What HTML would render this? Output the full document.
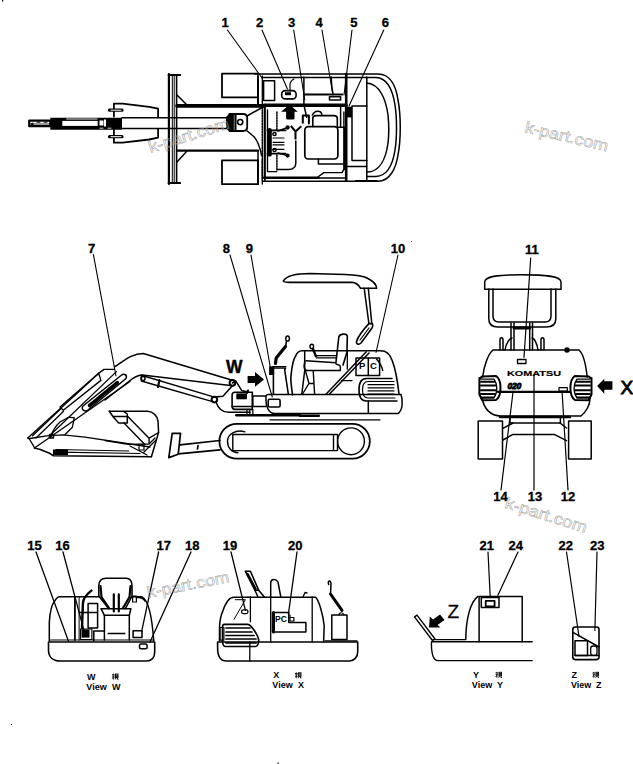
<!DOCTYPE html>
<html><head><meta charset="utf-8"><style>
html,body{margin:0;padding:0;background:#fff;width:633px;height:764px;overflow:hidden}
svg{display:block}
.n{font-family:"Liberation Sans",sans-serif;font-weight:bold;font-size:13px;fill:#000;stroke:#000;stroke-width:0.3px}
.v{font-family:"Liberation Sans",sans-serif;font-weight:bold;font-size:9px;fill:#000}
.wm{font-family:"Liberation Sans",sans-serif;font-size:14px;fill:#999}
</style></head><body>
<svg width="633" height="764" viewBox="0 0 633 764">
<g fill="none" stroke="#000" stroke-width="1.5" stroke-linejoin="round" stroke-linecap="round">

<!-- ============ TOP VIEW ============ -->
<!-- arm -->
<path d="M50.3,117.7 L122,117.7 L122,129.7 L50.3,129.7 Z" fill="#000" stroke="none"/>
<rect x="62.3" y="120.9" width="35.4" height="5" fill="#fff" stroke="none"/>
<path d="M66.7,119 L97,119" stroke="#fff" stroke-width="0.9"/>
<rect x="99.5" y="120.5" width="4" height="5" fill="#fff" stroke="none"/>
<rect x="104" y="119.5" width="2" height="7" fill="#fff" stroke="none"/>
<path d="M100,128.2 L103,128.2 M108,128.2 L111,128.2" stroke="#fff" stroke-width="0.8"/>
<path d="M29.2,120.6 L50.3,120.6 L50.3,126.2 L29.2,126.2 Z" stroke-width="2.2"/>
<path d="M37,122.2 L40,122.2 M44,122.2 L47,122.2" stroke-width="1"/>
<path d="M31,123.8 L33,123 L33,125 Z" fill="#000" stroke-width="1"/>
<path d="M33,124 L50,124" stroke-width="0.8"/>
<!-- boom -->
<path d="M122,117.8 L231,117.8 M122,128.5 L231,128.5" stroke-width="1.5"/>
<!-- boom-end brackets -->
<path d="M113.9,116.5 L113.9,103.7 L122.7,103.7 L149.2,106.9 L158.1,108.7 L158.1,116.5" stroke-width="1.8"/>
<path d="M113.9,129 L113.9,142.7 L122.7,142.7 L149.2,139.5 L158.1,137.7 L158.1,129" stroke-width="1.8"/>
<path d="M109.5,110.2 L122,110.2 M109.5,136.7 L122,136.7" stroke-width="3.2"/>
<path d="M111,110.2 L121,110.2 M111,136.7 L121,136.7" stroke="#fff" stroke-width="1"/>
<!-- blade -->
<path d="M168.9,74 L168.9,184" stroke-width="2.2"/>
<path d="M167.8,75 L180.9,75 M167.8,183 L180.9,183" stroke-width="2.2" stroke-linecap="butt"/>
<path d="M176.6,76 L176.6,182" stroke-width="1.6"/>
<path d="M172.3,76 L172.3,182 M174.2,76 L174.2,182" stroke-width="1"/>
<!-- braces / frame -->
<path d="M177,95 L187,105 M177,162 L187,151"/>
<path d="M177,105.9 L264,105.9" stroke-width="3.6"/>
<path d="M177,150.7 L258,150.7" stroke-width="2.2"/>
<!-- tracks -->
<path d="M222,73.6 L258,73.6 M222,73.6 L222,97.4 L258,97.4" stroke-width="1.8"/>
<path d="M222,160.4 L258,160.4 M222,160.4 L222,184.2 L258,184.2" stroke-width="1.8"/>
<path d="M258,76 L258,105 M258,160 L258,184" stroke-width="2"/><path d="M262.3,76 L262.3,105 M262.3,160 L262.3,184" stroke-width="1.3"/>
<!-- swing bracket -->
<path d="M229.5,114 L243,114 C246,114 247.2,116 247.2,118 L247.2,127 C247.2,129 246,131 243,131 L229.5,131 Z" stroke-width="1.8"/>
<path d="M233.9,114 L233.9,131 M235.8,114 L235.8,131"/>
<path d="M226,117 L229.5,113.5 L233,113.5 L233,131.5 L229.5,131.5 L226,128.5 Z" fill="#000" stroke="none"/>
<circle cx="240.2" cy="122.1" r="2.6" stroke-width="1.6"/>
<path d="M247,116 L263,107 M246,130 L254,136.7 C258,141 260,148 261.7,155.6"/>
<path d="M262.3,107 L262.3,180" stroke-dasharray="1.5 1.2"/>
<path d="M258,151 L258,161"/>
<!-- upper structure -->
<path d="M255,74 L378,74 C390,74 396,86 398,100 C401,115 401,140 398,155 C396,168 390,181.3 378,181.3 L263,181.3" stroke-width="1.5"/>
<path d="M262,77.5 L376,77.5 C388,78 393,92 395,105 C397,118 397,138 395,150 C393,163 388,176 376,176.5 L367,176.5"/>
<path d="M367,83 C380,84 386,100 388,115 C389,125 389,135 388,143 C386,158 380,172 367,172"/>
<path d="M366.8,77 L366.8,180"/>
<path d="M352,106 L366.8,106 M352,106 L352,160.4 L366.8,160.4 M346,166.5 L366.5,166.5"/>
<rect x="346" y="106.7" width="6" height="10.7" fill="#000" stroke="none"/>
<path d="M356,181 L377,181" stroke-width="2.2"/>
<path d="M264.9,106 L264.9,180" stroke-width="1.8"/>
<path d="M263.6,80.8 L274.6,80.8 L274.6,100.4 L263.6,100.4 Z"/>
<rect x="281.7" y="90.6" width="14.4" height="8.3" rx="3.5" stroke-width="1.6"/>
<rect x="285" y="92.2" width="6" height="3" fill="#000" stroke="none"/>
<path d="M290,91 L290,85 C290,82 292,80 294,79" stroke-width="1.2"/>
<path d="M304.5,94.5 L342.3,94.5" stroke-width="2"/>
<rect x="329.5" y="96.7" width="11.1" height="3.3" stroke-width="1.6"/>
<path d="M331.2,77 C331.5,85 332,90 332.9,92.8"/>
<path d="M346.2,74 L346.2,180" stroke-width="2.6"/>
<path d="M346,105.3 L264,105.3" stroke-width="3.4"/>
<!-- cab -->
<path d="M264.5,107 L264.5,178 L345.6,178" stroke-width="1.6"/>
<path d="M267.5,110 L267.5,171.6 L276.8,171.6 M317.8,177 L323.9,172.6 L342.1,172.6 L343.9,169.1 L343.9,112" stroke-width="1.4"/>
<path d="M264,177.8 L318.7,177.8" stroke-width="2.4"/>
<!-- seat -->
<rect x="304.8" y="126.7" width="33.1" height="32.3" rx="3.5" stroke-width="1.7"/>
<path d="M312.8,126.5 L312.8,118.5 Q312.8,115.6 316,115.6 L334,115.6 Q337.3,115.6 337.3,118.5 L337.3,126.5" stroke-width="1.6"/>
<path d="M318.4,159 L318.4,164 L344,164" stroke-width="1.5"/>
<path d="M337.9,127.3 L344.5,127.3 M340.6,105 L340.6,126.2 M344.5,127.3 L344.5,169.6"/>
<path d="M302.8,122.8 L302.8,115.6 L308.9,115.6 L308.9,123.4" stroke-width="2"/>
<path d="M312.3,115 C314,112 316,111.2 317.8,111.2 C320,111.2 321.7,112.5 321.7,114.5" stroke-width="1.5"/>
<path d="M303.9,77 L303.9,105 M303.9,105 L306.7,117.3"/>
<!-- arrow -->
<path d="M289.5,104.5 L297.8,111.7 L294.5,111.7 L294.5,118.5 Q294.5,119.5 293,119.5 L287.6,119.5 Q286.1,119.5 286.1,118.5 L286.1,111.7 L281.1,111.7 Z" fill="#000" stroke="none"/>
<!-- Y -->
<path d="M290.8,125.8 L295.5,131.5 L301.3,126.3 M295.5,131.5 L295.5,139.4" stroke-width="2" stroke-linecap="butt"/>
<!-- levers -->
<path d="M269.6,130.3 L269.6,154.4" stroke-width="4.4"/>
<path d="M267.4,130.3 L285.7,130.3 M267.4,153.7 L285.7,153.7" stroke-width="1.8"/>
<path d="M273,138 L284,138 M273,142.3 L284,142.3 M273,144.9 L284,144.9 M273,149.3 L284,149.3" stroke-width="1.2"/>
<circle cx="274.5" cy="134" r="1.6"/><circle cx="274.5" cy="150" r="1.6"/>
<path d="M278,131 L287.6,127.5 M278,153 L287.6,155.6" stroke-width="1.5"/>
<circle cx="287.6" cy="127.5" r="1.4" fill="#000"/>
<circle cx="287.6" cy="155.6" r="1.4" fill="#000"/>
<path d="M276.9,112 L276.9,130 M276.9,155 L276.9,170" stroke-dasharray="1.5 1.2"/>
<path d="M295.8,141 L295.8,163 Q295.8,169.5 288.3,169.5 L277.5,169.5"/>
<!-- leaders top -->
<path d="M227.4,30 L262,78 M262,30 L287.4,89 M293.7,30 L304.8,100 M322,30 L333,95 M352,30 L344,95 M383.8,30 L349,106" stroke-width="1.1"/>

<!-- ============ SIDE VIEW ============ -->
<!-- arm -->
<path d="M27.8,438 L75.2,395 M75.2,395 L98.7,373.2 M98.7,373.2 L104.2,369.4 L114.2,369.4" stroke-width="1.4"/>
<path d="M60,407 L98.7,373.2 L100.9,380.4 L63.3,410.3 Z" stroke-width="1.4"/>
<path d="M32.6,435.8 L60.5,409 M36,438 L63.3,411.5" stroke-width="1.3"/>
<path d="M50.6,434.8 L116.4,371.6" stroke-width="1.3"/>
<path d="M34.5,448 L130,381.5" stroke-width="1.4"/>
<path d="M83,406 L121,375.5 C124.5,373 127.5,375 126,378.5 L88,410 C84.5,412.5 80.5,409 83,406 Z" stroke-width="1.5"/>
<path d="M89.5,405.5 L117.5,382.5" stroke-width="3.6" stroke-dasharray="5 1.2"/>
<path d="M27.8,438 L29.7,439.5 L34.5,447.6 M29.7,438.5 L46.8,435.8 L62.9,434.8 L85,437.2 L150,447" stroke-width="1.3"/>
<path d="M50.6,436.7 C53,430 56.3,425.3 60,422 L68.6,417.3 L74.3,417.7 L72.4,427.2 L64.8,434.8" stroke-width="1.3"/>
<rect x="49.5" y="434.5" width="4" height="3.5" stroke-width="1.3"/>
<path d="M34.5,448 L40.2,449.5 L49.6,453.3 L53.4,455.7 L151.4,456.7" stroke-width="1.6"/>
<rect x="53" y="449.5" width="15" height="5.5" fill="#000" stroke="none"/>
<path d="M56,449.5 L128.7,451 M57,452.2 L140,453.5" stroke-width="1.2"/>
<!-- boom -->
<path d="M115,366.5 C125,360 132,353.5 143.3,353.5 L231.4,380"/>
<path d="M105,400 L132,379 C135,377 139,375 142.3,375 L232.4,385.8"/>
<path d="M141.4,375.3 L214.4,397.1 M141.4,381 L213.4,401.9 M141.4,375.3 L141.4,381"/>
<path d="M159.4,380 L158,387" stroke-width="2.2"/>
<circle cx="143" cy="378.5" r="2"/>
<circle cx="232.4" cy="382.9" r="2.8" stroke-width="2"/>
<circle cx="214.4" cy="399.6" r="2.8" stroke-width="2"/>
<path d="M232.4,385.8 L222.9,396.2 L214.4,397.1 M232.4,383 L235.7,380.9 L241.6,390.4 L247.9,392 M216,402 C218,408 222,412.3 228.6,412.3 L250,412.3"/>
<!-- bucket -->
<path d="M109.3,411.2 L147.7,411.2 C153,411.5 157.6,416 158,421 L158.6,432.5 L151.4,456.7" stroke-width="1.5"/>
<path d="M109.3,411.2 L113.5,417.3 L118.7,423 L127.3,423 L127.3,414 L124,411.6 M113.5,416.4 L127.3,416.4" stroke-width="1.5"/>
<path d="M127.3,416 L149.1,438.2 L158.6,432.5 M124,423 L144.3,443.9 M149.1,438.2 L149.1,443" stroke-width="1.4"/>
<path d="M105,440.5 L128.2,444.3 L149,444 L155,438 M130,446 L147,455 M144,452 L156,440" stroke-width="1.3"/>
<rect x="139" y="445" width="5" height="5" stroke-width="1.2"/>
<!-- dozer blade -->
<path d="M172.2,433.3 L180.5,433.3 L178.2,454.3 L168.8,457.6 Z" stroke-width="1.7"/>
<path d="M180,444.9 L220,440.5 M178.2,453.8 L220,449.9 M197.5,449 L198,445.5" stroke-width="1.7"/>
<!-- track -->
<path d="M237,423.8 L352.5,423.8 C362,423.8 369.8,431.5 369.8,441.3 C369.8,451 362,458.7 352.5,458.7 L237,458.7 C227,458.7 219.4,451 219.4,441.3 C219.4,431.5 227,423.8 237,423.8 Z" stroke-width="1.8"/>
<path d="M244.9,431.9 C236,429 227.5,434 227.5,441.3 C227.5,448 232,452.8 238,452.8" stroke-width="1.4"/>
<path d="M232.8,434.5 L337.5,434.5 M232.8,450.6 L337.5,450.6 M232.8,434.5 L232.8,450.6 M333.5,434.5 L333.5,450.6 M337.5,434.5 L337.5,450.6" stroke-width="1.4"/>
<circle cx="351" cy="441.3" r="13.4" stroke-width="1.4"/>
<!-- swing bracket / lower body -->
<path d="M235,392.2 L252.3,392.2 L252.3,409.4 L235,409.4 Q232.1,409.4 232.1,406.5 L232.1,395 Q232.1,392.2 235,392.2 Z" stroke-width="1.6"/>
<rect x="236.3" y="393.4" width="10.6" height="5.9" fill="#000" stroke="none"/>
<path d="M246.9,393 L248,390.5" stroke-width="2"/>
<path d="M252.3,396 L265.9,396 M232.1,406.4 L265.9,406.4 M252.8,396 L252.8,406.4" stroke-width="1.5"/>
<path d="M246.9,409.4 L246.9,413.5 M249.8,409.4 L249.8,413.5 M252.8,409.4 L252.8,413.5" stroke-width="1.3"/>
<path d="M236.3,415.3 L300,415.3" stroke-width="2.5"/>
<path d="M268,394.5 L401,394.5 C403,400 403,410 398,413.6 L274.8,413.6 C268,413.6 265.9,405 265.9,400 C265.9,396 266,394.5 268,394.5 Z" stroke-width="1.5"/>
<path d="M300,415.7 L318.8,415.7" stroke-width="2.5"/>
<path d="M270,419.8 L380,419.8" stroke-width="1.2"/>
<rect x="268.2" y="399.3" width="11.9" height="7.7" rx="1.5" stroke-width="1.6"/>
<!-- tank / lever -->
<path d="M273.4,394 L273.4,368 L285.5,368 L284.7,370 L288.3,394" stroke-width="1.6"/>
<path d="M272.7,366.5 L286,366.5" stroke-width="1.2"/>
<rect x="269.1" y="366.4" width="5" height="8.6" fill="#000" stroke="none"/>
<path d="M285.5,346.5 L276.2,357.9 L275.5,363.5" stroke-width="3.2"/>
<path d="M285.5,346.5 L286.5,341" stroke-width="1.5"/>
<ellipse cx="287.6" cy="338.5" rx="1.8" ry="2.6" stroke-width="1.5"/>
<!-- hood -->
<path d="M292.6,394.8 C291,385 290.5,378 291.1,375 C292,366 293,360 295.4,356.4 C297,352.5 299,350.8 302,350.8 L380.6,350.8 C386,350.8 390,354 392,360 C396,370 398,385 399,394" stroke-width="1.6"/>
<path d="M304.7,351.5 L304.7,370.6 C303.5,380 302.5,388 301.8,394" stroke-width="1.5"/>
<path d="M376.5,359 C380,363 382,367 382.7,370.3"/>
<!-- seat -->
<path d="M336,362 L338.8,337 C339.5,333.7 346.5,333 347.3,336 L347,352 L343,365" stroke-width="1.6"/>
<path d="M306,360.7 L336,362.8 M304.7,362 C303.5,367 304,370.6 308,370.6 L340.2,370.6 C341,366 340.5,365 336,364" stroke-width="1.5"/>
<path d="M316.7,355.7 L336,355.7 M316.7,357.9 L336,357.9" stroke-width="1.3"/>
<path d="M313.2,370.6 L314.6,394 M305.4,370.6 L309,383.5 L302.5,394 M309,383.5 L314,383.5" stroke-width="1.4"/>
<path d="M313,349 L316,356.4" stroke-width="2.4"/>
<ellipse cx="311.8" cy="346.5" rx="1.8" ry="2.2" stroke-width="1.4"/>
<path d="M347.3,351.5 L347.3,369.2 M341.6,380.6 L352,380.6" stroke-width="1.3"/>
<path d="M326.2,394 L366.3,351.8 M329.5,394 L369,353"/>
<!-- canopy -->
<path d="M283.3,281.1 C286,276.5 295,273.5 310,273.5 L345,274.5 C355,275 363,275.9 367,278 C373,281 376.6,285 376.6,288.3 L360.6,288.3 C358,284 356,282.4 352,282.4 L290,282.4 C286,282.4 283.3,282 283.3,281.1 Z" stroke-width="1.6"/>
<path d="M364.2,288.3 L368.9,323.6 M368.3,288.3 L371.8,323.6" stroke-width="1.5"/>
<path d="M368.9,323.6 L371.8,323.6 C373,324 373,326 372,328 L361,343 C359,345 356,344.5 356.5,341.5 C357.5,338 363,330 368.9,323.6 Z" stroke-width="1.6"/>
<path d="M360,340 L369,328" stroke-width="1.2"/>
<!-- PC decal -->
<rect x="356" y="358" width="23.6" height="17.5" stroke-width="1.5"/>
<path d="M368.3,358 L368.3,375.5"/>
<text x="359" y="368.5" font-family="Liberation Sans" font-weight="bold" font-size="9.5" fill="#000" stroke="none">P</text>
<text x="370" y="368.5" font-family="Liberation Sans" font-weight="bold" font-size="9.5" fill="#000" stroke="none">C</text>
<!-- grille -->
<path d="M392,378.5 L366.3,378.5 C361,378.5 359,384 359,389.8 C359,396 361,401 366.3,401 L397,401" stroke-width="1.6"/>
<path d="M394,381.5 L368,381.5 C364,381.5 362.5,385 362.5,389.8 C362.5,394 364,398 368,398 L395,398" stroke-width="1.2"/>
<path d="M368,384.7 L394,384.7 M368,387.8 L394,387.8 M368,390.9 L394,390.9 M368,394 L394,394" stroke-width="1.2"/>
<path d="M368.3,401 L368.3,413"/>
<!-- W arrow -->
<path d="M247.6,376 L255,376 L255,372 L264,379.5 L255,386.8 L255,383 L247.6,383 Z" fill="#000" stroke="none"/>
<!-- leaders side -->
<path d="M93.4,254.6 L116,376 M230,255 L272.3,397 M251,255 L270.5,368.5 M398,255 L376,352.5" stroke-width="1.1"/>

<!-- ============ REAR VIEW ============ -->
<path d="M484.7,289.3 L484.7,282 C484.7,276 500,274.7 522,274.7 C544,274.7 561,276 561,282 L561,289.3 Z" stroke-width="1.5"/>
<path d="M488.8,289 L488.8,319 C488.8,325 492,327 498,327 L546,327 C552,327 555.8,325 555.8,319 L555.8,289"/>
<path d="M493,289 L493,316 C493,320 495,322 499,322 L545,322 C549,322 551,320 551,316 L551,289"/>
<path d="M511,323 L511,350 M514,323 L514,350 M529.7,323 L529.7,350 M532.5,323 L532.5,350"/>
<path d="M514,328 L529.7,328" stroke-width="3"/>
<path d="M500,350 L500,340 C500,337 503,337 503,340 L503,350 M541,350 L541,340 C541,337 544,337 544,340 L544,350"/>
<path d="M505,350 C506,343 510,338 512,338 M538,350 C537,343 534,338 532,338"/>
<circle cx="567" cy="350" r="2" fill="#000"/>
<path d="M493,350 L578.9,350 C584,354 586,366 587.2,377 M493,350 C488,354 484,366 482.6,377" stroke-width="1.5"/>
<path d="M482.3,399 C484,408 490,416 500.8,416 L581,416 C586,412 590,405 590,399" stroke-width="1.5"/>
<!-- lamps -->
<path d="M480.3,377.9 L482,376.5 L496.1,376 C499,378 500.5,383 500.5,387.7 C500.5,393 499,398 496,400 L482.2,400.3 L479.4,394.5 L479.4,378 Z" stroke-width="2"/>
<path d="M481,379.2 L494,379.2 C496,382 496.8,385 496.8,388 C496.8,392 496,395 494,397.8 L481,397.8" stroke-width="1.3"/>
<path d="M481,381.7 L494.5,381.7 M481,385.5 L495.5,385.5 M481,390.2 L495.5,390.2 M481,394 L495,394 M481,397.5 L493.5,397.5" stroke-width="2"/>
<g transform="translate(1070.9,0) scale(-1,1)"><path d="M480.3,377.9 L482,376.5 L496.1,376 C499,378 500.5,383 500.5,387.7 C500.5,393 499,398 496,400 L482.2,400.3 L479.4,394.5 L479.4,378 Z" stroke-width="2"/>
<path d="M481,379.2 L494,379.2 C496,382 496.8,385 496.8,388 C496.8,392 496,395 494,397.8 L481,397.8" stroke-width="1.3"/>
<path d="M481,381.7 L494.5,381.7 M481,385.5 L495.5,385.5 M481,390.2 L495.5,390.2 M481,394 L495,394 M481,397.5 L493.5,397.5" stroke-width="2"/></g>
<path d="M498,391.9 L570,391.9" stroke-width="2.2"/>
<rect x="559" y="387.7" width="8.3" height="3.3" stroke-width="1.2"/>
<path d="M500,417 L570,417" stroke-width="2.5"/>
<path d="M510,417 L510,423 L560.4,423 L560.4,417"/>
<text transform="translate(507,375.9) scale(1.55,1)" x="0" y="0" font-family="Liberation Sans" font-weight="bold" font-size="7" fill="#000" stroke="#000" stroke-width="0.15">KOMATSU</text>
<path d="M517.5,359.5 L526,359.5 L526,363.5 L517.5,363.5 Z" stroke-width="1.3"/>
<text x="507.5" y="389" font-family="Liberation Sans" font-weight="bold" font-style="italic" font-size="8.5" fill="#000" stroke="#000" stroke-width="0.8" letter-spacing="-0.2">020</text>
<!-- tracks rear -->
<rect x="478.2" y="421" width="24.3" height="38" stroke-width="1.5"/>
<rect x="568.6" y="421" width="22.6" height="38" stroke-width="1.5"/>
<path d="M502.9,428.3 L513,423 M502.9,440 L513,434.4 L554.2,434.4 L566.5,440.6 M566.5,428 L560,423"/>
<!-- leaders rear -->
<path d="M530.7,258 L524,357.3 M534,375 L534,490 M512.9,393 L501,490 M562.1,392 L568,490" stroke-width="1.2"/>
<!-- X arrow -->
<path d="M612.4,381.2 L604.3,381.2 L604.3,378.8 L597.1,386 L604.3,393.8 L604.3,389.7 L612.4,389.7 Z" fill="#000" stroke="none"/>

<!-- ============ VIEW W ============ -->
<path d="M49.3,641 L49.3,622.4 C50,612 52,604 54.5,601.5 C56,598.5 57.5,596.8 60,596.8 L98.8,596.8 M132,596.8 L142,596.8 C148,600 152,615 153.7,641" stroke-width="1.5"/>
<path d="M48.5,642 L154.7,642 L154.7,652 C154.7,658 152,661 146,661 L60,661 C53,661 48.5,657 48.5,650 Z" stroke-width="1.6"/>
<path d="M50,640 L154,640" stroke-width="1.2"/>
<path d="M74.9,597 L74.9,640" stroke-width="1.8"/>
<path d="M79.1,597 L79.1,640" stroke-width="1"/>
<!-- seat -->
<path d="M98.8,586 C98.8,581 101,578.3 106,578.3 L126,578.3 C130,578.3 132,581 132,586 L132,596 L125.4,608.7 M98.8,586 L98.8,596 L108.8,608.7" stroke-width="1.6"/>
<path d="M100.5,586 L101.5,597 L109,608 M130.5,586 L129.5,597 L123,608" stroke-width="2.2"/>
<path d="M113.8,594.3 L113.8,611.5 M118.8,594.3 L118.8,611.5" stroke-width="2.2"/>
<path d="M101,608.7 L130.9,608.7 L129.3,615.3 L104.4,615.3 Z" stroke-width="1.5"/>
<path d="M104.4,615.3 L104.4,640 M129.3,615.3 L129.3,640 M108.2,633.6 L124.8,633.6" stroke-width="1.5"/>
<rect x="132.6" y="596" width="3.8" height="6" stroke-width="1.2"/>
<path d="M136.4,597.6 C140,597 143,598 145,601"/>
<!-- left items -->
<path d="M91.4,590.6 C87,594 83,599 82.9,603.4 L82,628" stroke-width="2.4"/>
<path d="M88.1,603.4 L97.6,603.4 L97.6,628.1 L88.1,628.1 Z M80,612.4 L97.6,612.4" stroke-width="1.5"/>
<rect x="80.5" y="629" width="11.4" height="10.5" stroke-width="1.2"/>
<rect x="81.5" y="629.5" width="8" height="8.1" fill="#000" stroke="none"/>
<path d="M93.8,641 L93.8,630.9 L104.4,630.9" stroke-width="1.5"/>
<rect x="133.1" y="630.8" width="8.9" height="6.7" stroke-width="1.5"/>
<rect x="139.5" y="644" width="7.6" height="4.7" rx="1.5" stroke-width="1.5"/>
<path d="M36,552 L68.4,641 M63,552 L84.5,632.6 M158.6,552 L141.6,631.6 M191,552 L150,642" stroke-width="1.3"/>

<!-- ============ VIEW X ============ -->
<path d="M219.5,640.8 L219.5,626.9 C220,620 221,615 222.6,611.7 C225,604 228,597.2 234,597.2 L315.4,597.2 C319,600 323,615 324.2,625.6 L323.6,642" stroke-width="1.5"/>
<path d="M217.6,642 L357.7,642 L357.7,652 C357.7,657 354,661 349.5,661 L226.4,661 C220,661 217.6,655 217.6,648 Z" stroke-width="1.6"/>
<path d="M325,640.8 L357,640.8" stroke-width="1.2"/>
<path d="M249.8,642 L249.8,661 M250.4,597 L250.4,621.8 M312.2,597 L312.2,642 M270.7,597 L270.7,642" stroke-width="1.3"/>
<rect x="220.1" y="627.5" width="3.8" height="12.7" stroke-width="1.2"/>
<path d="M224.5,624.4 L247.9,624.4 C251,624.4 258.7,636 258.7,640.8 C258.7,644 257,646.5 255.5,646.5 L225.2,646.5 C223,646.5 222.5,644 222.5,640 L222.5,627 C222.5,625 223,624.4 224.5,624.4 Z" stroke-width="1.6"/>
<path d="M226,628 L250,628 M226,632 L252,632 M226,635.5 L254,635.5 M226,639 L256,639 M226,643 L256,643" stroke-width="1.7"/>
<path d="M272.5,612.4 L272.5,632 L305.9,632 L305.9,622.4 L288.8,622.4 L288.8,612.4 Z" stroke-width="1.5"/>
<path d="M273.5,612.4 L273.5,632" stroke-width="3"/>
<text x="275" y="621.5" font-family="Liberation Sans" font-weight="bold" font-size="8.5" fill="#000" stroke="none">PC</text>
<path d="M290,615 L290,621 L293.9,621 L293.9,617.5 L290,617.5" stroke-width="1.2"/>
<rect x="331.8" y="614.9" width="15.2" height="24.6" stroke-width="1.5"/>
<path d="M330.5,594 L342,610.4" stroke-width="3"/>
<path d="M328.7,584.5 C327,580 331,580 331,584 L330.5,594" stroke-width="1.5"/>
<path d="M339,614.9 C339,612 343,612 344,614.9" stroke-width="1.2"/>
<path d="M245.4,571.3 L250.4,571.3 L258.7,590.2 L254.9,590.2 Z" stroke-width="1.6"/>
<path d="M247.5,574 L255.5,589" stroke-width="2.6"/>
<path d="M254.9,590.2 L258,597 M258.7,590.2 L264.3,597"/>
<path d="M270.7,597 L270.7,583 C270.7,578.5 276,578.5 278,582 L280.8,597" stroke-width="1.5"/>
<path d="M235.3,599.7 L245.4,599.7 L234,619.3" stroke-width="1"/>
<rect x="241.6" y="609.8" width="6.3" height="3.8" rx="1.5" stroke-width="1.3"/>
<path d="M303,597 L305,592.5 L307,593" stroke-width="1.3"/>
<path d="M231,552 L245.4,610.4 M297,552 L288.4,614.2" stroke-width="1.3"/>

<!-- ============ VIEW Y ============ -->
<path d="M479.1,641.8 L479.1,596.4 L522.2,596.4 L522.2,641.8" stroke-width="1.5"/>
<path d="M478,596.4 C470,602 466,620 465.8,638.5"/>
<rect x="481.3" y="597.6" width="17.7" height="9.9" stroke-width="1.5"/>
<rect x="485.7" y="600.9" width="8.9" height="5.5" stroke-width="1.8"/>
<path d="M431.5,641.8 L532.2,641.8 M433,639.6 L466,639.6 M431.5,641.8 C431,655 434,660.6 438.2,660.6 L532.2,660.6" stroke-width="1.4"/>
<path d="M414.5,616.8 L432.5,640.5 L435,639 L417,615.2 Z" stroke-width="1.4"/>
<path d="M429,627.5 L429.8,616.5 L433,619.5 L440,614.5 L444.5,620 L437.5,625 L440.5,627.5 Z" fill="#000" stroke="none"/>
<path d="M488,552 L490.2,596.4 M518,552 L497.9,595.3" stroke-width="1.2"/>

<!-- ============ VIEW Z ============ -->
<rect x="572.8" y="627" width="26.2" height="32.6" rx="2.5" stroke-width="1.6"/>
<rect x="575" y="640.7" width="12.5" height="14.7" stroke-width="1.5"/>
<rect x="590.7" y="646" width="6.3" height="9.4" rx="2.5" stroke-width="1.3"/>
<path d="M573,632.3 L599,647 M575,655.4 L599,655.4"/>
<path d="M566.5,552 L579,636.5 M597,552 L594.9,630.2" stroke-width="1.2"/>

</g>

<!-- numbers -->
<g class="n" text-anchor="middle">
<text x="225.2" y="27">1</text><text x="259.6" y="27">2</text><text x="291.5" y="27">3</text>
<text x="319" y="27">4</text><text x="353.8" y="27">5</text><text x="385.4" y="27">6</text>
<text x="91.5" y="253">7</text><text x="226.3" y="253">8</text><text x="249.4" y="253">9</text><text x="398" y="253">10</text>
<text x="531.9" y="254">11</text>
<text x="500.5" y="501">14</text><text x="535" y="501">13</text><text x="568" y="501">12</text>
<text x="34.5" y="549.7">15</text><text x="62.5" y="549.7">16</text><text x="163.8" y="549.7">17</text><text x="192.2" y="549.7">18</text>
<text x="229.9" y="549.7">19</text><text x="295.3" y="549.7">20</text>
<text x="486.8" y="549.7">21</text><text x="515.8" y="549.7">24</text><text x="565.8" y="549.7">22</text><text x="597.2" y="549.7">23</text>
</g>
<g font-family="Liberation Sans" fill="#000" stroke="#000">
<text x="226" y="373.3" font-size="17.5" font-weight="bold" stroke-width="0.4">W</text>
<text x="620.5" y="393.8" font-size="19" stroke-width="0.9">X</text>
<text x="447.5" y="617.7" font-size="19" stroke-width="0.3">Z</text>
</g>
<g class="v">
<text x="87.1" y="679.6">W</text><g transform="translate(112.0,673.7) scale(0.9)" fill="none" stroke="#000" stroke-width="1.0"><path d="M0,1.2 H3 M1.5,0 V1.2 M0.2,2.6 H3 M1.5,2.6 V6.5 M0.3,5.5 L1.2,3.8 M2.9,4.2 L2.4,5"/><rect x="3.9" y="0.4" width="2.8" height="3.9"/><path d="M4,1.7 H6.7 M4,3 H6.7 M4.6,4.3 L3.7,6.4 M6,4.3 V6.2 H7.2"/></g><text x="86.3" y="689.5">View</text><text x="112" y="689.5">W</text>
<text x="273.3" y="678.3">X</text><g transform="translate(295.0,672.4) scale(0.9)" fill="none" stroke="#000" stroke-width="1.0"><path d="M0,1.2 H3 M1.5,0 V1.2 M0.2,2.6 H3 M1.5,2.6 V6.5 M0.3,5.5 L1.2,3.8 M2.9,4.2 L2.4,5"/><rect x="3.9" y="0.4" width="2.8" height="3.9"/><path d="M4,1.7 H6.7 M4,3 H6.7 M4.6,4.3 L3.7,6.4 M6,4.3 V6.2 H7.2"/></g><text x="272.3" y="688.1999999999999">View</text><text x="297.9" y="688.1999999999999">X</text>
<text x="473" y="677.8">Y</text><g transform="translate(495.5,671.9) scale(0.9)" fill="none" stroke="#000" stroke-width="1.0"><path d="M0,1.2 H3 M1.5,0 V1.2 M0.2,2.6 H3 M1.5,2.6 V6.5 M0.3,5.5 L1.2,3.8 M2.9,4.2 L2.4,5"/><rect x="3.9" y="0.4" width="2.8" height="3.9"/><path d="M4,1.7 H6.7 M4,3 H6.7 M4.6,4.3 L3.7,6.4 M6,4.3 V6.2 H7.2"/></g><text x="471.8" y="687.6999999999999">View</text><text x="497" y="687.6999999999999">Y</text>
<text x="571.4" y="677.8">Z</text><g transform="translate(592.5,671.9) scale(0.9)" fill="none" stroke="#000" stroke-width="1.0"><path d="M0,1.2 H3 M1.5,0 V1.2 M0.2,2.6 H3 M1.5,2.6 V6.5 M0.3,5.5 L1.2,3.8 M2.9,4.2 L2.4,5"/><rect x="3.9" y="0.4" width="2.8" height="3.9"/><path d="M4,1.7 H6.7 M4,3 H6.7 M4.6,4.3 L3.7,6.4 M6,4.3 V6.2 H7.2"/></g><text x="571" y="687.6999999999999">View</text><text x="596" y="687.6999999999999">Z</text>
</g>
<rect x="2" y="0" width="1.2" height="1.5" fill="#000"/>
<rect x="11" y="724" width="1" height="1" fill="#000"/>
<rect x="277.5" y="762.5" width="1.2" height="1.5" fill="#000"/>
<rect x="411.2" y="241" width="0.8" height="0.8" fill="#000"/>
<!-- watermarks -->
<g font-family="Liberation Sans" font-size="16" fill="none" stroke="#a0a0a0" stroke-width="0.5">
<text x="150.5" y="153" textLength="83.4" lengthAdjust="spacingAndGlyphs" transform="rotate(-17.4 150.5 153)">k-part.com</text>
<text x="524" y="132" textLength="85" lengthAdjust="spacingAndGlyphs" transform="rotate(13.2 524 132)">k-part.com</text>
<text x="504" y="507.5" textLength="85" lengthAdjust="spacingAndGlyphs" transform="rotate(17.4 504 507.5)">k-part.com</text>
<text x="148" y="598" textLength="83.6" lengthAdjust="spacingAndGlyphs" transform="rotate(-11 148 598)">k-part.com</text>
</g>
</svg>
</body></html>
